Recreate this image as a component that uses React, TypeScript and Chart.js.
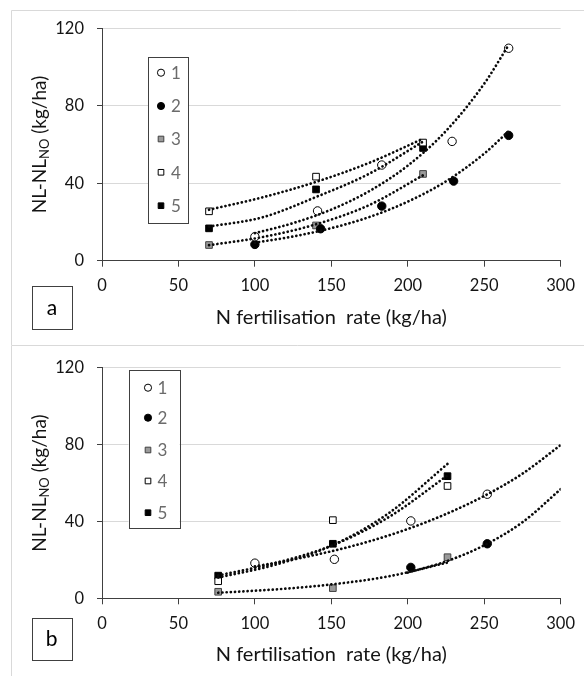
import React, { useEffect, useRef } from 'react';
import { Chart, registerables } from 'chart.js';

Chart.register(...registerables);

// ---------- data: panel a ----------
const SERIES_NAMES = ['1', '2', '3', '4', '5'];

const A_X1 = [100, 141, 183, 229, 266];
const A_Y1 = [12.4, 25.7, 49.4, 61.6, 109.7];
const A_X2 = [100, 143, 183, 230, 266];
const A_Y2 = [8.4, 16.5, 28.2, 41.1, 64.7];
const A_X3 = [70, 140, 210];
const A_Y3 = [8.1, 18.2, 44.8];
const A_X4 = [70, 140, 210];
const A_Y4 = [25.5, 43.4, 61.0];
const A_X5 = [70, 140, 210];
const A_Y5 = [16.7, 36.8, 58.2];

// trend curves
const A_T1_X = [100, 125, 150, 175, 200, 225, 250, 266];
const A_T1_Y = [14.2, 19.4, 26.4, 36.0, 49.1, 67.0, 91.4, 111.4];
const A_T2_X = [100, 125, 150, 175, 200, 225, 250, 266];
const A_T2_Y = [9.3, 12.5, 16.8, 22.6, 30.5, 41.0, 55.3, 66.9];
const A_T3_X = [70, 105, 140, 175, 210];
const A_T3_Y = [8.0, 12.2, 18.8, 28.8, 44.1];
const A_T4_X = [70, 105, 140, 175, 210];
const A_T4_Y = [26.3, 32.7, 40.7, 50.6, 63.0];
const A_T5_X = [70, 105, 140, 175, 210];
const A_T5_Y = [17.6, 22.4, 32.9, 45.0, 61.5];

// ---------- data: panel b ----------
const B_X1 = [100, 152, 202, 252];
const B_Y1 = [18.3, 20.3, 40.3, 54.2];
const B_X2 = [202, 252];
const B_Y2 = [16.1, 28.4];
const B_X3 = [76, 151, 226];
const B_Y3 = [3.4, 5.3, 21.4];
const B_X4 = [76, 151, 226];
const B_Y4 = [8.9, 40.7, 58.5];
const B_X5 = [76, 151, 226];
const B_Y5 = [11.8, 28.4, 63.6];

const B_T1_X = [100, 125, 150, 175, 200, 225, 250, 275, 300];
const B_T1_Y = [16.6, 20.2, 24.5, 29.7, 36.1, 43.9, 53.3, 64.9, 79.8];
const B_T2_X = [200, 225, 250, 275, 300];
const B_T2_Y = [13.4, 19.2, 27.6, 39.6, 56.8];
const B_T3_X = [76, 113, 151, 188, 226];
const B_T3_Y = [2.9, 4.6, 7.3, 11.5, 18.6];
const B_T4_X = [76, 113, 151, 188, 226];
const B_T4_Y = [10.8, 17.4, 27.7, 44.6, 70.0];
const B_T5_X = [76, 113, 151, 188, 226];
const B_T5_Y = [11.9, 18.3, 27.7, 42.5, 64.0];

// ---------- axes ----------
const X_MIN = 0;
const X_MAX = 300;
const X_STEP = 50;
const Y_MIN = 0;
const Y_MAX = 120;
const Y_STEP = 40;
const X_TITLE = 'N fertilisation  rate (kg/ha)';
const Y_TITLE_MAIN = 'NL-NL';
const Y_TITLE_SUB = 'NO';
const Y_TITLE_END = ' (kg/ha)';

// ---------- styles ----------
const FONT = 'Lato';
const AXIS_COLOR = '#404040';
const GRID_COLOR = '#d9d9d9';
const FRAME_COLOR = '#d9d9d9';
const TEXT_COLOR = '#141414';
const LEGEND_TEXT = '#6b6b6b';
const MARKERS = [
  { style: 'circle', bg: '#ffffff', border: '#000000', r: 4.2 },
  { style: 'circle', bg: '#000000', border: '#000000', r: 4.2 },
  { style: 'rect', bg: '#9a9a9a', border: '#404040', r: 4.7 },
  { style: 'rect', bg: '#ffffff', border: '#000000', r: 4.7 },
  { style: 'rect', bg: '#000000', border: '#000000', r: 4.7 },
];

const W = 584;
const AREA_LEFT = 102;
const AREA_RIGHT = 561.3;

type PanelCfg = {
  label: string;
  height: number;
  areaTop: number;
  areaBottom: number;
  points: [number[], number[]][];
  trends: [number[], number[]][];
  legendBox: [number, number, number, number];
  legendMarkerX: number;
  legendTextX: number;
  legendYs: number[];
  xTitleY: number;
  yTitleX: number;
  labelBox: [number, number, number, number];
  labelTextY: number;
  frameTop: boolean;
};

const PANEL_A: PanelCfg = {
  label: 'a',
  height: 345,
  areaTop: 28.3,
  areaBottom: 260.7,
  points: [[A_X1, A_Y1], [A_X2, A_Y2], [A_X3, A_Y3], [A_X4, A_Y4], [A_X5, A_Y5]],
  trends: [[A_T1_X, A_T1_Y], [A_T2_X, A_T2_Y], [A_T3_X, A_T3_Y], [A_T4_X, A_T4_Y], [A_T5_X, A_T5_Y]],
  legendBox: [148, 56.7, 188, 222.3],
  legendMarkerX: 161,
  legendTextX: 171,
  legendYs: [72.7, 106, 139, 172.3, 205.7],
  xTitleY: 318,
  yTitleX: 39,
  labelBox: [32, 286, 72, 328.5],
  labelTextY: 308.5,
  frameTop: true,
};

const PANEL_B: PanelCfg = {
  label: 'b',
  height: 331,
  areaTop: 19.3,
  areaBottom: 253.3,
  points: [[B_X1, B_Y1], [B_X2, B_Y2], [B_X3, B_Y3], [B_X4, B_Y4], [B_X5, B_Y5]],
  trends: [[B_T1_X, B_T1_Y], [B_T2_X, B_T2_Y], [B_T3_X, B_T3_Y], [B_T4_X, B_T4_Y], [B_T5_X, B_T5_Y]],
  legendBox: [128.5, 25.3, 179.5, 183.3],
  legendMarkerX: 148,
  legendTextX: 157.5,
  legendYs: [42.7, 72.7, 105, 136, 167.7],
  xTitleY: 310,
  yTitleX: 39,
  labelBox: [32, 272.7, 71.5, 315],
  labelTextY: 294.5,
  frameTop: false,
};

function drawMarker(ctx: CanvasRenderingContext2D, m: any, x: number, y: number, scale: number) {
  ctx.save();
  ctx.fillStyle = m.bg;
  ctx.strokeStyle = m.border;
  ctx.lineWidth = 1;
  ctx.beginPath();
  if (m.style === 'circle') {
    ctx.arc(x, y, m.r * scale, 0, Math.PI * 2);
  } else {
    const s = m.r * Math.SQRT1_2 * scale;
    ctx.rect(x - s, y - s, 2 * s, 2 * s);
  }
  ctx.fill();
  ctx.stroke();
  ctx.restore();
}

const decoPlugin = {
  id: 'panelDeco',
  beforeDraw(chart: any, _args: any, opts: any) {
    const cfg: PanelCfg = opts.cfg;
    const ctx: CanvasRenderingContext2D = chart.ctx;
    ctx.save();
    ctx.fillStyle = '#ffffff';
    ctx.fillRect(0, 0, chart.width, chart.height);
    ctx.strokeStyle = FRAME_COLOR;
    ctx.lineWidth = 1;
    ctx.beginPath();
    if (cfg.frameTop) {
      ctx.moveTo(11.5, cfg.height);
      ctx.lineTo(11.5, 10.5);
      ctx.lineTo(W, 10.5);
    } else {
      ctx.moveTo(11.5, cfg.height);
      ctx.lineTo(11.5, 0.5);
      ctx.moveTo(11.5, 0.5);
      ctx.lineTo(W, 0.5);
    }
    ctx.stroke();
    ctx.restore();
  },
  afterDraw(chart: any, _args: any, opts: any) {
    const cfg: PanelCfg = opts.cfg;
    const ctx: CanvasRenderingContext2D = chart.ctx;
    const area = chart.chartArea;
    ctx.save();

    // legend
    const [lx1, ly1, lx2, ly2] = cfg.legendBox;
    ctx.fillStyle = '#ffffff';
    ctx.strokeStyle = AXIS_COLOR;
    ctx.lineWidth = 1;
    ctx.fillRect(lx1, ly1, lx2 - lx1, ly2 - ly1);
    ctx.strokeRect(Math.round(lx1) + 0.5, Math.round(ly1) + 0.5, Math.round(lx2 - lx1), Math.round(ly2 - ly1));
    ctx.font = `17px ${FONT}`;
    ctx.textBaseline = 'middle';
    ctx.textAlign = 'left';
    SERIES_NAMES.forEach((name, i) => {
      const y = cfg.legendYs[i];
      drawMarker(ctx, MARKERS[i], cfg.legendMarkerX, y, 0.85);
      ctx.fillStyle = LEGEND_TEXT;
      ctx.fillText(name, cfg.legendTextX, y + 1);
    });

    // x title
    ctx.fillStyle = TEXT_COLOR;
    ctx.font = `20px ${FONT}`;
    ctx.textAlign = 'center';
    ctx.textBaseline = 'middle';
    ctx.fillText(X_TITLE, (area.left + area.right) / 2, cfg.xTitleY);

    // y title with subscript
    const cy = (area.top + area.bottom) / 2;
    ctx.translate(cfg.yTitleX, cy);
    ctx.rotate(-Math.PI / 2);
    const mainFont = `19px ${FONT}`;
    const subFont = `13px ${FONT}`;
    ctx.font = mainFont;
    const w1 = ctx.measureText(Y_TITLE_MAIN).width;
    const w3 = ctx.measureText(Y_TITLE_END).width;
    ctx.font = subFont;
    const w2 = ctx.measureText(Y_TITLE_SUB).width;
    let x = -(w1 + w2 + w3) / 2;
    ctx.textAlign = 'left';
    ctx.textBaseline = 'alphabetic';
    const base = 6.5;
    ctx.font = mainFont;
    ctx.fillText(Y_TITLE_MAIN, x, base);
    x += w1;
    ctx.font = subFont;
    ctx.fillText(Y_TITLE_SUB, x, base + 3.5);
    x += w2;
    ctx.font = mainFont;
    ctx.fillText(Y_TITLE_END, x, base);
    ctx.setTransform(1, 0, 0, 1, 0, 0);

    // panel label box
    const [bx1, by1, bx2, by2] = cfg.labelBox;
    ctx.strokeStyle = AXIS_COLOR;
    ctx.lineWidth = 1;
    ctx.strokeRect(Math.round(bx1) + 0.5, Math.round(by1) + 0.5, Math.round(bx2 - bx1), Math.round(by2 - by1));
    ctx.fillStyle = '#000000';
    ctx.font = `21px ${FONT}`;
    ctx.textAlign = 'center';
    ctx.textBaseline = 'middle';
    ctx.fillText(cfg.label, (bx1 + bx2) / 2, cfg.labelTextY);
    ctx.restore();
  },
};

function buildConfig(cfg: PanelCfg): any {
  const datasets: any[] = [];
  cfg.trends.forEach(([xs, ys], i) => {
    datasets.push({
      label: 'trend ' + SERIES_NAMES[i],
      data: xs.map((x, k) => ({ x, y: ys[k] })),
      showLine: true,
      pointRadius: 0,
      borderColor: '#0a0a0a',
      borderWidth: 2.7,
      borderDash: [0.1, 4.1],
      borderCapStyle: 'round',
      cubicInterpolationMode: 'monotone',
      fill: false,
      order: 0,
    });
  });
  cfg.points.forEach(([xs, ys], i) => {
    const m = MARKERS[i];
    datasets.push({
      label: SERIES_NAMES[i],
      data: xs.map((x, k) => ({ x, y: ys[k] })),
      showLine: false,
      pointStyle: m.style,
      pointRadius: m.r,
      pointBackgroundColor: m.bg,
      pointBorderColor: m.border,
      pointBorderWidth: 1,
      order: 1,
    });
  });

  return {
    type: 'scatter',
    data: { datasets },
    options: {
      animation: false,
      responsive: false,
      maintainAspectRatio: false,
      devicePixelRatio: 1,
      layout: { padding: { left: 0, top: cfg.areaTop, right: W - AREA_RIGHT, bottom: 0 } },
      plugins: {
        legend: { display: false },
        tooltip: { enabled: false },
        panelDeco: { cfg },
      },
      scales: {
        x: {
          type: 'linear',
          min: X_MIN,
          max: X_MAX,
          ticks: { stepSize: X_STEP, color: TEXT_COLOR, font: { family: FONT, size: 16.5 }, padding: 9, maxRotation: 0 },
          grid: { drawOnChartArea: false, drawTicks: true, tickLength: 6, tickColor: AXIS_COLOR },
          border: { color: AXIS_COLOR, width: 1 },
          afterFit: (s: any) => { s.height = cfg.height - cfg.areaBottom; },
        },
        y: {
          type: 'linear',
          min: Y_MIN,
          max: Y_MAX,
          ticks: { stepSize: Y_STEP, color: TEXT_COLOR, font: { family: FONT, size: 16.5 }, padding: 13 },
          grid: {
            color: (c: any) => (c.tick && c.tick.value === 0 ? 'rgba(0,0,0,0)' : GRID_COLOR),
            tickColor: AXIS_COLOR,
            tickLength: 5,
            lineWidth: 1,
          },
          border: { color: AXIS_COLOR, width: 1 },
          afterFit: (s: any) => { s.width = AREA_LEFT; },
        },
      },
    },
    plugins: [decoPlugin],
  };
}

function Panel({ cfg }: { cfg: PanelCfg }) {
  const ref = useRef<HTMLCanvasElement>(null);
  useEffect(() => {
    const chart = new Chart(ref.current as HTMLCanvasElement, buildConfig(cfg));
    return () => chart.destroy();
  }, [cfg]);
  return (
    <canvas
      ref={ref}
      width={W}
      height={cfg.height}
      style={{ display: 'block', width: W, height: cfg.height }}
    />
  );
}

export default function App() {
  return (
    <div style={{ position: 'absolute', left: 0, top: 0, width: W, height: 676, background: '#ffffff' }}>
      <Panel cfg={PANEL_A} />
      <Panel cfg={PANEL_B} />
    </div>
  );
}
